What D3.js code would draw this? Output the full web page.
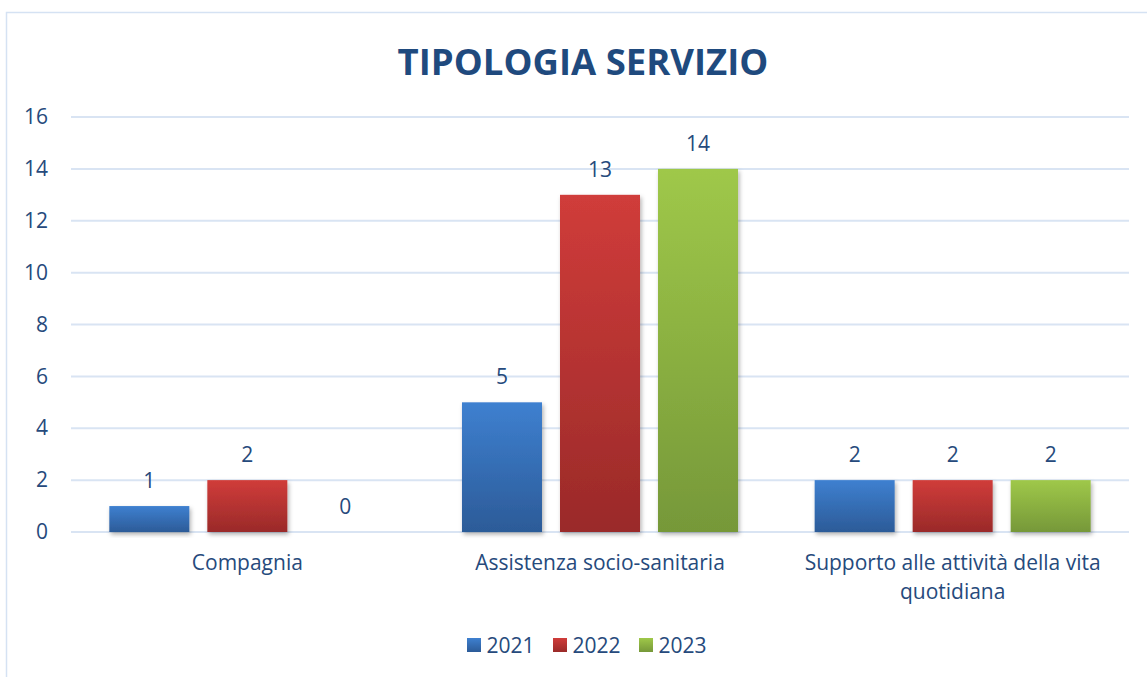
<!DOCTYPE html>
<html>
<head>
<meta charset="utf-8">
<script src="https://cdn.jsdelivr.net/npm/d3@7"></script>
<style>
  html, body { margin: 0; padding: 0; background: #ffffff; }
  svg { display: block; }
  text { font-family: "Open Sans", Lato, sans-serif; }
</style>
</head>
<body>
<svg id="chart" width="1147" height="677"></svg>
<script>
// Service types per year
const categories = ["Compagnia", "Assistenza socio-sanitaria", "Supporto alle attività della vita quotidiana"];
const categoryLines = [["Compagnia"], ["Assistenza socio-sanitaria"], ["Supporto alle attività della vita", "quotidiana"]];
const years = ["2021", "2022", "2023"];
const values2021 = [1, 5, 2];
const values2022 = [2, 13, 2];
const values2023 = [0, 14, 2];
const yTicks = [0, 2, 4, 6, 8, 10, 12, 14, 16];
const chartTitle = "TIPOLOGIA SERVIZIO";

const seriesValues = [values2021, values2022, values2023];
const palette = [
  { top: "#3e80d0", bottom: "#2c5b98" },
  { top: "#d03c3a", bottom: "#9a2a29" },
  { top: "#9fc849", bottom: "#769839" }
];
const textColor = "#264a7c";
const gridColor = "#d9e4f3";
const labelFont = "'Open Sans', Lato, sans-serif";
const labelSize = 21;

const svg = d3.select("#chart");
const defs = svg.append("defs");

palette.forEach((c, i) => {
  const g = defs.append("linearGradient")
    .attr("id", "grad" + i).attr("x1", 0).attr("y1", 0).attr("x2", 0).attr("y2", 1);
  g.append("stop").attr("offset", "0%").attr("stop-color", c.top);
  g.append("stop").attr("offset", "100%").attr("stop-color", c.bottom);
});

const shadow = defs.append("filter").attr("id", "shadow")
  .attr("x", "-20%").attr("y", "-20%").attr("width", "140%").attr("height", "140%");
shadow.append("feDropShadow").attr("dx", 1.5).attr("dy", 2.5).attr("stdDeviation", 2)
  .attr("flood-color", "#000").attr("flood-opacity", 0.3);

// Outer frame
svg.append("rect")
  .attr("x", 6.5).attr("y", 12.5).attr("width", 1160).attr("height", 700)
  .attr("fill", "none").attr("stroke", "#d5e2f3").attr("stroke-width", 1.5);

// Title
svg.append("text")
  .attr("x", 583).attr("y", 75)
  .attr("text-anchor", "middle")
  .attr("font-family", "Lato, 'Open Sans', sans-serif")
  .attr("font-size", 36.5).attr("font-weight", 700)
  .attr("fill", "#1f4a7e")
  .text(chartTitle);

const plotLeft = 71, plotRight = 1129;
const y = d3.scaleLinear().domain([0, 16]).range([532, 117]);
const x0 = d3.scaleBand().domain(categories).range([plotLeft, plotRight]);
const x1 = d3.scaleBand().domain(years).range([0, x0.bandwidth()])
  .paddingInner(0.1837).paddingOuter(0.391);

// Gridlines
svg.append("g").selectAll("line").data(yTicks).join("line")
  .attr("x1", plotLeft).attr("x2", plotRight)
  .attr("y1", d => y(d)).attr("y2", d => y(d))
  .attr("stroke", gridColor).attr("stroke-width", 2);

// Y axis labels
const yAxis = d3.axisLeft(y).tickValues(yTicks).tickSize(0).tickPadding(0);
const yG = svg.append("g").attr("transform", "translate(48,0)").call(yAxis);
yG.select(".domain").remove();
yG.selectAll("text")
  .attr("font-size", labelSize).attr("fill", textColor)
  .attr("font-family", labelFont);

// Bars
const groups = svg.append("g").selectAll("g").data(categories).join("g")
  .attr("transform", d => `translate(${x0(d)},0)`);

groups.each(function(cat, ci) {
  const g = d3.select(this);
  years.forEach((yr, si) => {
    const v = seriesValues[si][ci];
    if (v > 0) {
      g.append("rect")
        .attr("x", x1(yr)).attr("width", x1.bandwidth())
        .attr("y", y(v)).attr("height", y(0) - y(v))
        .attr("fill", `url(#grad${si})`)
        .attr("filter", "url(#shadow)");
    }
    g.append("text")
      .attr("x", x1(yr) + x1.bandwidth() / 2)
      .attr("y", y(v) - 18)
      .attr("text-anchor", "middle")
      .attr("font-size", labelSize).attr("fill", textColor)
      .text(v);
  });
});

// Category labels
svg.append("g").selectAll("text").data(categories).join("text")
  .attr("x", d => x0(d) + x0.bandwidth() / 2)
  .attr("y", 570)
  .attr("text-anchor", "middle")
  .attr("font-size", labelSize).attr("fill", textColor)
  .each(function(d, i) {
    d3.select(this).selectAll("tspan").data(categoryLines[i]).join("tspan")
      .attr("x", x0(d) + x0.bandwidth() / 2)
      .attr("dy", (t, k) => k === 0 ? 0 : 29)
      .text(t => t);
  });

// Legend
const legendX = [467, 553, 639];
const legend = svg.append("g").selectAll("g").data(years).join("g")
  .attr("transform", (d, i) => `translate(${legendX[i]},638)`);
legend.append("rect").attr("width", 14).attr("height", 14)
  .attr("fill", (d, i) => `url(#grad${i})`);
legend.append("text").attr("x", 19.5).attr("y", 14.5)
  .attr("font-size", labelSize).attr("fill", textColor)
  .text(d => d);
</script>
</body>
</html>
